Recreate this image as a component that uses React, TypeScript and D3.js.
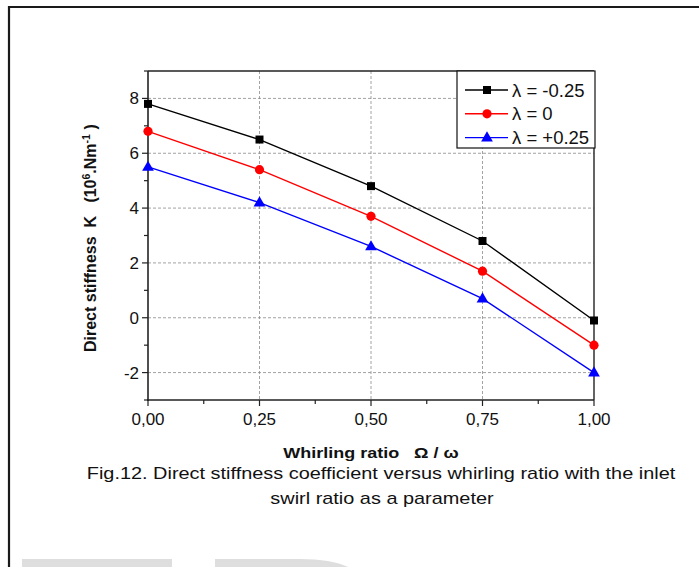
import React from "react";
import * as d3 from "d3";

const xValues = [0, 0.25, 0.5, 0.75, 1.0];
const seriesNeg = [7.8, 6.5, 4.8, 2.8, -0.1];
const seriesZero = [6.8, 5.4, 3.7, 1.7, -1.0];
const seriesPos = [5.5, 4.2, 2.6, 0.7, -2.0];
const seriesLabels = ["λ = -0.25", "λ = 0", "λ = +0.25"];
const xTickValues = [0, 0.25, 0.5, 0.75, 1.0];
const xTickLabels = ["0,00", "0,25", "0,50", "0,75", "1,00"];
const yTickValues = [-2, 0, 2, 4, 6, 8];
const yMinorValues = [-3, -1, 1, 3, 5, 7, 9];
const xMinorValues = [0.125, 0.375, 0.625, 0.875];

const W = 699;
const H = 567;
const L = 148, R = 594, T = 71, B = 400;
const FONT = "'Liberation Sans', Arial, sans-serif";

export default function App() {
  const x = d3.scaleLinear().domain([0, 1]).range([L, R]);
  const y = d3.scaleLinear().domain([-3, 9]).range([B, T]);
  const line = d3
    .line<number>()
    .x((_, i) => x(xValues[i]))
    .y((d) => y(d));

  const series = [
    { data: seriesNeg, color: "#000000", marker: "square" },
    { data: seriesZero, color: "#ff0000", marker: "circle" },
    { data: seriesPos, color: "#0000ff", marker: "triangle" },
  ];

  const marker = (type: string, cx: number, cy: number, color: string, key: string) => {
    if (type === "square")
      return <rect key={key} x={cx - 4} y={cy - 4} width={8} height={8} fill={color} />;
    if (type === "circle") return <circle key={key} cx={cx} cy={cy} r={4.6} fill={color} />;
    const tri = d3.symbol().type(d3.symbolTriangle).size(60)();
    return <path key={key} d={tri || ""} transform={`translate(${cx},${cy + 0.5})`} fill={color} />;
  };

  return (
    <svg
      width={W}
      height={H}
      style={{ position: "fixed", left: 0, top: 0, background: "#fff" }}
      fontFamily={FONT}
    >
      <rect x={0} y={0} width={W} height={H} fill="#fff" />
      {/* outer frame */}
      <path d={`M9,${H + 5} V7 H${W + 5}`} fill="none" stroke="#1a1a1a" strokeWidth={2.2} />
      {/* watermark */}
      <rect x={22} y={559} width={150} height={10} fill="#dedede" />
      <path d="M215,569 V559 H300 Q335,559 352,569 Z" fill="#dedede" />

      {/* grid */}
      {yTickValues.map((v) => (
        <line key={"gy" + v} x1={L} x2={R} y1={y(v)} y2={y(v)} stroke="#8a8a8a" strokeWidth={0.8} strokeDasharray="3,2" />
      ))}
      {xTickValues.slice(1, 4).map((v) => (
        <line key={"gx" + v} x1={x(v)} x2={x(v)} y1={T} y2={B} stroke="#8a8a8a" strokeWidth={0.8} strokeDasharray="3,2" />
      ))}

      {/* axes frame */}
      <line x1={L} x2={R} y1={T} y2={T} stroke="#222" strokeWidth={1.4} />
      <line x1={R} x2={R} y1={T} y2={B} stroke="#222" strokeWidth={1.4} />
      <line x1={L} x2={L} y1={T} y2={B + 1} stroke="#222" strokeWidth={1.6} />
      <line x1={L - 1} x2={R} y1={B} y2={B} stroke="#222" strokeWidth={1.6} />

      {/* y ticks */}
      {yTickValues.map((v) => (
        <g key={"yt" + v}>
          <line x1={L - 6} x2={L} y1={y(v)} y2={y(v)} stroke="#222" strokeWidth={1.2} />
          <text x={L - 9} y={y(v) + 6} textAnchor="end" fontSize={17} fill="#111">
            {v < 0 ? "-" + Math.abs(v) : v}
          </text>
        </g>
      ))}
      {yMinorValues.map((v) => (
        <line key={"ym" + v} x1={L - 4} x2={L} y1={y(v)} y2={y(v)} stroke="#222" strokeWidth={1.2} />
      ))}
      {/* x ticks */}
      {xTickValues.map((v, i) => (
        <g key={"xt" + v}>
          <line x1={x(v)} x2={x(v)} y1={B} y2={B + 6} stroke="#222" strokeWidth={1.2} />
          <text x={x(v)} y={B + 25} textAnchor="middle" fontSize={17} fill="#111">
            {xTickLabels[i]}
          </text>
        </g>
      ))}
      {xMinorValues.map((v) => (
        <line key={"xm" + v} x1={x(v)} x2={x(v)} y1={B} y2={B + 4} stroke="#222" strokeWidth={1.2} />
      ))}

      {/* series */}
      {series.map((s, si) => (
        <g key={"s" + si}>
          <path d={line(s.data) || ""} fill="none" stroke={s.color} strokeWidth={1.4} />
          {s.data.map((d, i) => marker(s.marker, x(xValues[i]), y(d), s.color, "m" + si + "-" + i))}
        </g>
      ))}

      {/* legend */}
      <rect x={457} y={71} width={138} height={77} fill="#fff" stroke="#111" strokeWidth={1.2} />
      {series.map((s, i) => {
        const ly = 90 + i * 23.8;
        return (
          <g key={"lg" + i}>
            <line x1={465} x2={508} y1={ly} y2={ly} stroke={s.color} strokeWidth={1.4} />
            {marker(s.marker, 487, ly, s.color, "lm" + i)}
            <text x={512} y={ly + 6.5} fontSize={18.5} fill="#111">
              {seriesLabels[i]}
            </text>
          </g>
        );
      })}

      {/* axis titles */}
      <g transform="translate(371,458) scale(1.2,1)">
        <text x={0} y={0} textAnchor="middle" fontSize={15} fontWeight="bold" fill="#111">
          Whirling ratio{"\u00A0\u00A0\u00A0"}Ω / ω
        </text>
      </g>
      <text
        transform="translate(96,352) rotate(-90)"
        textAnchor="start"
        fontSize={16}
        fontWeight="bold"
        fill="#111"
      >
        Direct stiffness{"\u00A0\u00A0"}K{"\u00A0\u00A0\u00A0"}(10
        <tspan fontSize={10.5} dy={-6}>6</tspan>
        <tspan dy={6}>.Nm</tspan>
        <tspan fontSize={10.5} dy={-6}>-1</tspan>
        <tspan dy={6}>{"\u00A0"})</tspan>
      </text>

      {/* caption */}
      <g transform="translate(381,479) scale(1.17,1)">
        <text x={0} y={0} textAnchor="middle" fontSize={17} fill="#111">
          Fig.12. Direct stiffness coefficient versus whirling ratio with the inlet
        </text>
      </g>
      <g transform="translate(382,504) scale(1.17,1)">
        <text x={0} y={0} textAnchor="middle" fontSize={17} fill="#111">
          swirl ratio as a parameter
        </text>
      </g>
    </svg>
  );
}
